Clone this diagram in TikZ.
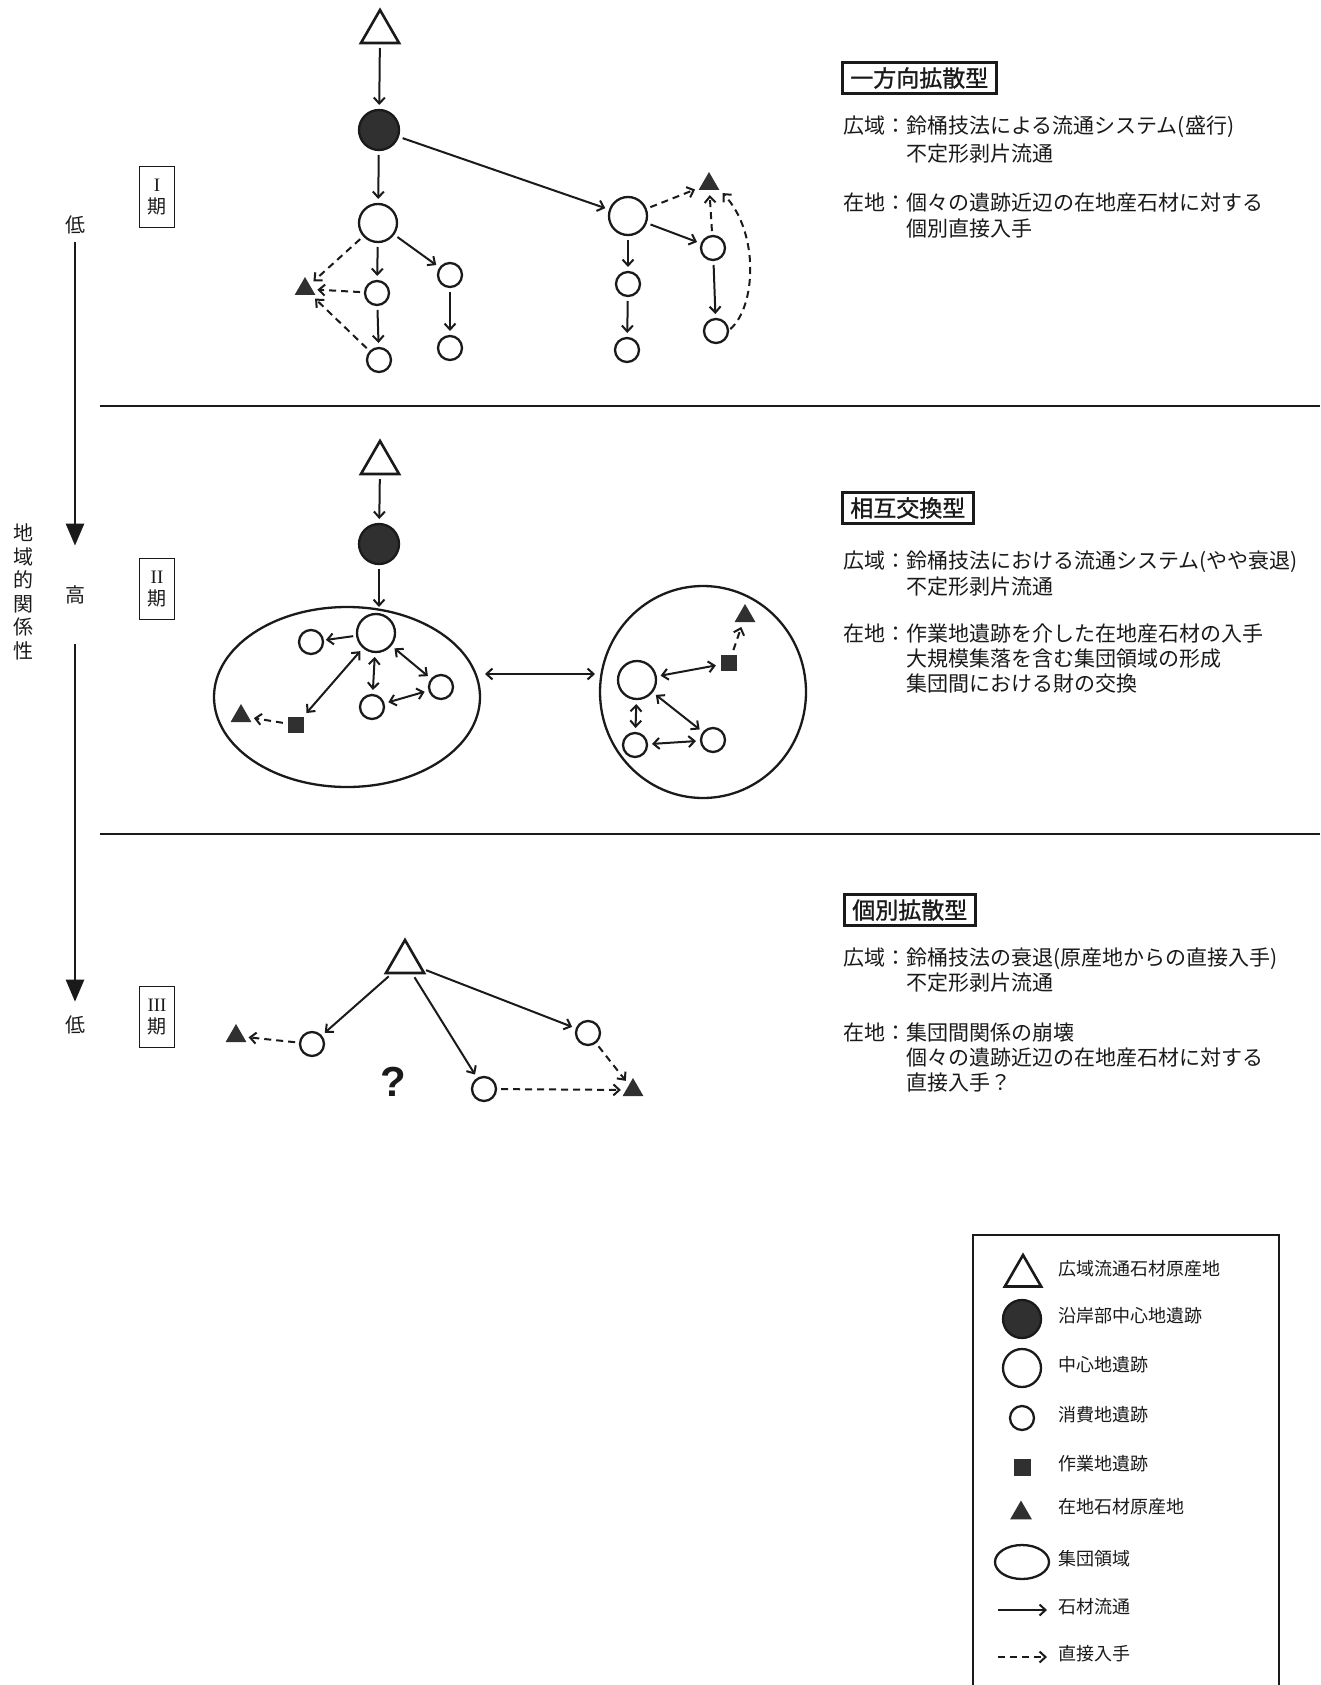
\documentclass[tikz,border=0pt]{standalone}
\usepackage{fontspec}
\usetikzlibrary{arrows.meta,shapes.geometric,calc}
\newfontfamily\jp{Noto Sans CJK JP}
\newfontfamily\jph[FakeBold=1.2]{Noto Sans CJK JP}
\newfontfamily\rmf{Liberation Serif}
\newfontfamily\qf{Liberation Sans}
\definecolor{ink}{HTML}{1A1A1A}
\definecolor{fillc}{HTML}{303030}
\tikzset{
  symb/.style={draw=ink, line width=2.3pt, inner sep=0pt, outer sep=0pt},
  srcT/.style={symb, regular polygon, regular polygon sides=3, minimum size=44pt, line width=2.6pt},
  hubC/.style={symb, circle, fill=fillc, minimum size=40pt},
  bigC/.style={symb, circle, minimum size=38pt},
  smC/.style={symb, circle, minimum size=24pt},
  locT/.style={regular polygon, regular polygon sides=3, fill=fillc, minimum size=24pt, inner sep=0pt},
  wsq/.style={rectangle, fill=fillc, minimum size=16pt, inner sep=0pt},
  grp/.style={symb, ellipse},
  flow/.style={draw=ink, line width=2pt, -{Straight Barb[length=6pt,width=11pt]}, shorten <=5pt, shorten >=5pt},
  dflow/.style={flow, dash pattern=on 7pt off 5pt},
  xflow/.style={flow, {Straight Barb[length=6pt,width=11pt]}-{Straight Barb[length=6pt,width=11pt]}},
  body/.style={font=\jp\fontsize{21}{26}\selectfont, anchor=west, inner sep=0pt, text height=0.88em, text depth=0.12em, text=ink},
  head/.style={draw=ink, line width=2.6pt, font=\jph\fontsize{23}{28}\selectfont, anchor=west, inner xsep=8pt, inner ysep=5pt, text=ink},
  legtxt/.style={font=\jp\fontsize{18}{22}\selectfont, anchor=west, inner sep=0pt, text height=0.88em, text depth=0.12em, text=ink},
  axl/.style={font=\jp\fontsize{20}{24}\selectfont, inner sep=0pt, text=ink},
  vert/.style={font=\jp\fontsize{20}{23.5}\selectfont, align=center, inner sep=0pt, text=ink},
  per/.style={draw=ink, line width=1.2pt, minimum width=35pt, minimum height=61pt, align=center, inner sep=0pt, font=\jp\fontsize{19}{22}\selectfont, text=ink},
  axarrow/.style={draw=ink, line width=2.6pt, -{Triangle[length=22pt,width=18pt]}},
}
\begin{document}
\begin{tikzpicture}[x=1pt,y=-1pt]
\useasboundingbox[fill=white] (0,0) rectangle (1320,1685);

% ---------- left axis ----------
\node[axl] (lo1) at (75,225) {低};
\node[axl] (hi) at (75,595) {高};
\node[axl] (lo2) at (75,1025) {低};
\draw[axarrow, shorten <=8pt, shorten >=40pt] (lo1.south) -- (hi.north);
\draw[axarrow, shorten <=40pt, shorten >=14pt] (hi.south) -- (lo2.north);
\node[vert] (vt) at (23,592) {地\\域\\的\\関\\係\\性};
\node[per] (p1) at (157,197) {{\rmf I}\\期};
\node[per] (p2) at (157,589) {{\rmf II}\\期};
\node[per] (p3) at (157,1017) {{\rmf III}\\期};

% dividers
\draw[ink, line width=2.8pt] (100,406) -- (1320,406);
\draw[ink, line width=2.8pt] (100,834) -- (1320,834);

% ---------- section I ----------
\node[srcT] (s1src) at (380,32) {};
\node[hubC] (s1hub) at (379,130) {};
\node[bigC] (s1A) at (378,223) {};
\node[bigC] (s1B) at (628,216) {};
\node[locT] (s1ta) at (305,289) {};
\node[smC] (s1a1) at (377,293) {};
\node[smC] (s1a2) at (379,360) {};
\node[smC] (s1b1) at (450,275) {};
\node[smC] (s1b2) at (450,348) {};
\node[smC] (s1c1) at (628,284) {};
\node[smC] (s1c2) at (627,350) {};
\node[smC] (s1d1) at (713,248) {};
\node[smC] (s1d2) at (716,331) {};
\node[locT] (s1tb) at (709,184) {};

\draw[flow] (s1src) -- (s1hub);
\draw[flow] (s1hub) -- (s1A);
\draw[flow] (s1hub) -- (s1B);
\draw[flow] (s1A) -- (s1a1);
\draw[flow] (s1a1) -- (s1a2);
\draw[flow] (s1A) -- (s1b1);
\draw[flow] (s1b1) -- (s1b2);
\draw[flow] (s1B) -- (s1c1);
\draw[flow] (s1c1) -- (s1c2);
\draw[flow] (s1B) -- (s1d1);
\draw[flow] (s1d1) -- (s1d2);
\draw[dflow] (s1A) -- (s1ta);
\draw[dflow] (s1a1) -- (s1ta);
\draw[dflow] (s1a2) -- (s1ta);
\draw[dflow] (s1B) -- (s1tb);
\draw[dflow] (s1d1) -- (s1tb);
\draw[dflow, shorten <=3pt, shorten >=4pt] (s1d2.east) .. controls +(28,-24) and +(40,42) .. (s1tb.corner 3);

\node[head] (h1) at (841,78) {一方向拡散型};
\node[body] (t11) at (843,130) {広域：鈴桶技法による流通システム(盛行)};
\node[body] (t12) at (906,158) {不定形剥片流通};
\node[body] (t13) at (843,207) {在地：個々の遺跡近辺の在地産石材に対する};
\node[body] (t14) at (906,233) {個別直接入手};

% ---------- section II ----------
\node[srcT] (s2src) at (380,463) {};
\node[hubC] (s2hub) at (379,544) {};
\node[grp, minimum width=266pt, minimum height=180pt] (grpL) at (347,697) {};
\node[grp, minimum width=206pt, minimum height=212pt] (grpR) at (703,692) {};
\node[bigC] (s2A) at (376,633) {};
\node[smC] (s2l) at (311,642) {};
\node[smC] (s2r) at (441,687) {};
\node[smC] (s2m) at (372,707) {};
\node[wsq] (s2sq) at (296,725) {};
\node[locT] (s2ta) at (241,716) {};
\node[bigC] (s2B) at (637,680) {};
\node[wsq] (s2sq2) at (729,663) {};
\node[locT] (s2tb) at (745,616) {};
\node[smC] (s2p) at (635,745) {};
\node[smC] (s2q) at (713,740) {};
\coordinate (gx) at (540,674);

\draw[flow] (s2src) -- (s2hub);
\draw[flow, shorten >=0pt] (s2hub) -- (s2hub |- grpL.north);
\draw[flow, shorten <=4pt, shorten >=3pt] (s2A) -- (s2l);
\draw[xflow] (s2A) -- (s2r);
\draw[xflow] (s2A) -- (s2m);
\draw[xflow] (s2m) -- (s2r);
\draw[xflow] (s2A) -- (s2sq);
\draw[dflow] (s2sq) -- (s2ta);
\draw[xflow] (grpL.east |- gx) -- (grpR.west |- gx);
\draw[xflow] (s2B) -- (s2sq2);
\draw[dflow] (s2sq2) -- (s2tb);
\draw[xflow] (s2B) -- (s2p);
\draw[xflow] (s2B) -- (s2q);
\draw[xflow] (s2p) -- (s2q);

\node[head] (h2) at (841,508) {相互交換型};
\node[body] (t21) at (843,565) {広域：鈴桶技法における流通システム(やや衰退)};
\node[body] (t22) at (906,591) {不定形剥片流通};
\node[body] (t23) at (843,638) {在地：作業地遺跡を介した在地産石材の入手};
\node[body] (t24) at (906,663) {大規模集落を含む集団領域の形成};
\node[body] (t25) at (906,688) {集団間における財の交換};

% ---------- section III ----------
\node[srcT] (s3src) at (405,962) {};
\node[smC] (s3l) at (312,1044) {};
\node[locT] (s3ta) at (236,1036) {};
\node[smC] (s3m) at (484,1089) {};
\node[smC] (s3r) at (588,1033) {};
\node[locT] (s3tb) at (633,1090) {};
\node[font=\qf\bfseries\fontsize{42}{42}\selectfont, text=ink, inner sep=0pt] (s3q) at (393,1082) {?};

\draw[flow] (s3src) -- (s3l);
\draw[flow] (s3src) -- (s3m);
\draw[flow] (s3src) -- (s3r);
\draw[dflow] (s3l) -- (s3ta);
\draw[dflow] (s3m) -- (s3tb);
\draw[dflow] (s3r) -- (s3tb);

\node[head] (h3) at (843,910) {個別拡散型};
\node[body] (t31) at (843,962) {広域：鈴桶技法の衰退(原産地からの直接入手)};
\node[body] (t32) at (906,987) {不定形剥片流通};
\node[body] (t33) at (843,1037) {在地：集団間関係の崩壊};
\node[body] (t34) at (906,1062) {個々の遺跡近辺の在地産石材に対する};
\node[body] (t35) at (906,1087) {直接入手？};

% ---------- legend ----------
\draw[ink, line width=1.8pt] (973,1690) -- (973,1235) -- (1279,1235) -- (1279,1690);
\node[srcT, minimum size=42pt] (L1) at (1023,1276) {};
\node[hubC, minimum size=38pt] (L2) at (1022,1319) {};
\node[bigC] (L3) at (1022,1368) {};
\node[smC] (L4) at (1022,1418) {};
\node[wsq, minimum size=17pt] (L5) at (1022,1467) {};
\node[locT, minimum size=25pt] (L6) at (1021,1513) {};
\node[grp, minimum width=54pt, minimum height=34pt] (L7) at (1022,1562) {};
\coordinate (L8a) at (998,1610);
\coordinate (L8b) at (1047,1610);
\coordinate (L9a) at (998,1657);
\coordinate (L9b) at (1047,1657);
\draw[flow, shorten <=0pt, shorten >=0pt] (L8a) -- (L8b);
\draw[dflow, shorten <=0pt, shorten >=0pt] (L9a) -- (L9b);
\node[legtxt] (lt1) at (1058,1272) {広域流通石材原産地};
\node[legtxt] (lt2) at (1058,1319) {沿岸部中心地遺跡};
\node[legtxt] (lt3) at (1058,1368) {中心地遺跡};
\node[legtxt] (lt4) at (1058,1418) {消費地遺跡};
\node[legtxt] (lt5) at (1058,1467) {作業地遺跡};
\node[legtxt] (lt6) at (1058,1510) {在地石材原産地};
\node[legtxt] (lt7) at (1058,1562) {集団領域};
\node[legtxt] (lt8) at (1058,1610) {石材流通};
\node[legtxt] (lt9) at (1058,1657) {直接入手};
\end{tikzpicture}
\end{document}
